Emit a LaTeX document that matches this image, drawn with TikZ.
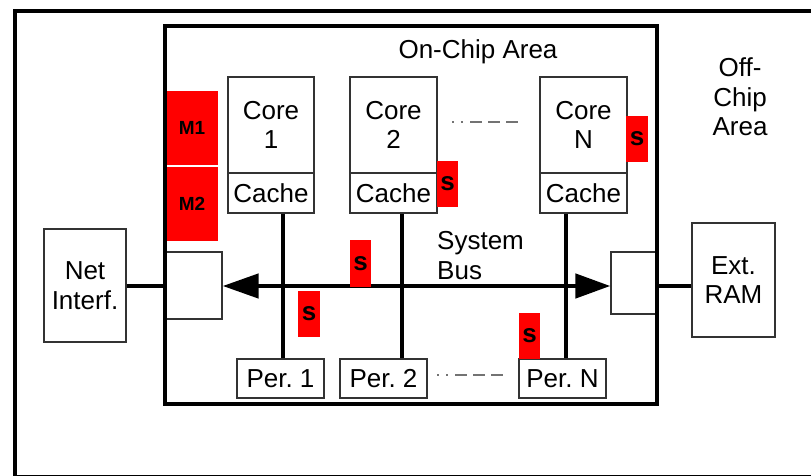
\documentclass[tikz,border=0pt]{standalone}
\usepackage{fontspec}
\setmainfont{Liberation Sans}
\usetikzlibrary{arrows.meta}
\frenchspacing
\begin{document}
\begin{tikzpicture}[x=1pt,y=-1pt,
  box/.style={draw=black!80, line width=1.3pt, fill=white, inner sep=0pt, align=center,
              font=\fontsize{26}{29.5}\selectfont},
  lbl/.style={inner sep=0pt, align=center, font=\fontsize{26}{29.5}\selectfont},
  thickline/.style={line width=4.6pt},
  redbox/.style={fill=red, inner sep=0pt, font=\bfseries\fontsize{26}{26}\selectfont},
  mbox/.style={fill=red, inner sep=0pt, minimum width=52pt, minimum height=74pt,
               font=\bfseries\fontsize{19}{19}\selectfont},
  ellip/.style={draw=black!55, line width=1.3pt,
                dash pattern=on 2pt off 7pt on 2pt off 7pt on 12pt off 6pt on 12pt off 6pt on 12pt off 60pt}
]
\useasboundingbox (0,0) rectangle (811,476);
\clip (0,0) rectangle (811,476);

% outer (off-chip) area
\draw[line width=4pt] (15,11) rectangle (840,477);

% M1 / M2 memories
\node[mbox] (m1) at (192,128) {M1};
\node[mbox] (m2) at (192,204) {M2};

% bridges on the chip border
\node[box, minimum width=57pt, minimum height=67pt] (bridgeL) at (193.5,285.5) {};
\node[box, minimum width=46pt, minimum height=62pt] (bridgeR) at (634,283) {};

% cores and caches
\node[box, minimum width=86pt, minimum height=96pt] (core1) at (271,125) {Core\\1};
\node[box, minimum width=86pt, minimum height=40pt] (cache1) at (271,193) {Cache};
\node[box, minimum width=87pt, minimum height=96pt] (core2) at (393.5,125) {Core\\2};
\node[box, minimum width=87pt, minimum height=40pt] (cache2) at (393.5,193) {Cache};
\node[box, minimum width=87pt, minimum height=96pt] (coreN) at (583.5,125) {Core\\N};
\node[box, minimum width=87pt, minimum height=40pt] (cacheN) at (583.5,193) {Cache};

% peripherals
\node[box, minimum width=87pt, minimum height=39pt] (per1) at (280.5,378.5) {Per. 1};
\node[box, minimum width=87pt, minimum height=39pt] (per2) at (383.5,378.5) {Per. 2};
\node[box, minimum width=87pt, minimum height=39pt] (perN) at (562.5,378.5) {Per. N};

% off-chip devices
\node[box, minimum width=82pt, minimum height=113pt] (net) at (85,285.5) {Net\\Interf.};
\node[box, minimum width=83pt, minimum height=114pt] (ram) at (733.5,280) {Ext.\\RAM};

% ellipses
\draw[ellip] (452,122) -- (522,122);
\draw[ellip] (437,375) -- (507,375);

% vertical connections core -> peripheral
\coordinate (v1) at (283,0);
\coordinate (v2) at (402,0);
\coordinate (vN) at (566,0);
\coordinate (busy) at (0,286);
\draw[thickline] (cache1.south -| v1) -- (per1.north -| v1);
\draw[thickline] (cache2.south -| v2) -- (per2.north -| v2);
\draw[thickline] (cacheN.south -| vN) -- (perN.north -| vN);

% system bus
\draw[thickline, {Triangle[length=36pt,width=24pt]}-{Triangle[length=35pt,width=24pt]}]
  (bridgeL.east |- busy) -- (bridgeR.west |- busy);

% on-chip area
\node[draw, line width=4.6pt, minimum width=492pt, minimum height=378pt, inner sep=0pt] (chip) at (411,215) {};

% off-chip links
\draw[thickline] (net.east |- busy) -- (chip.west |- busy);
\draw[thickline] (chip.east |- busy) -- (ram.west |- busy);

% labels
\node[lbl] (onchip) at (478,52) {On-Chip Area};
\node[lbl] (offchip) at (740,97) {Off-\\Chip\\Area};
\node[lbl, align=left, anchor=west] (bus) at (437,255.5) {System\\Bus};

% security modules
\node[redbox, minimum width=21pt, minimum height=46pt] (s1) at (447.5,184) {s};
\node[redbox, minimum width=22pt, minimum height=46pt] (s2) at (637,139) {s};
\node[redbox, minimum width=21pt, minimum height=47pt] (s3) at (360.5,263.5) {s};
\node[redbox, minimum width=22pt, minimum height=46pt] (s4) at (309,314) {s};
\node[redbox, minimum width=21pt, minimum height=46pt] (s5) at (529.5,336) {s};
\end{tikzpicture}
\end{document}
